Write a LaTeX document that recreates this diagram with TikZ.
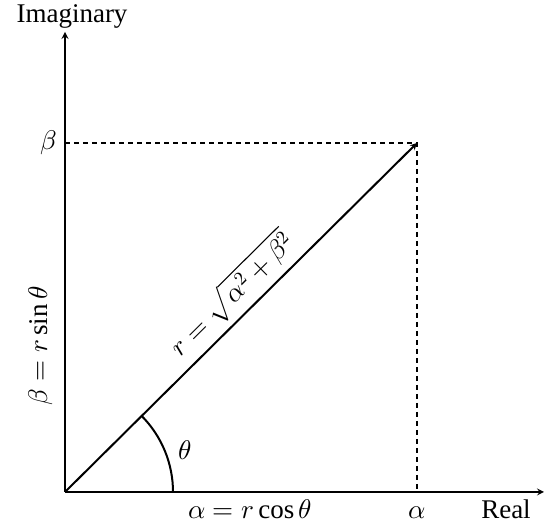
\documentclass[tikz,border=0pt]{standalone}
\usepackage{unicode-math}
\setmainfont{Liberation Serif}
\setmathfont{Latin Modern Math}
\usetikzlibrary{calc}

\begin{document}
\begin{tikzpicture}[x=1pt, y=1pt, line width=2pt, font=\fontsize{27}{32}\selectfont]
	\def\px{352}
	\def\py{349}
	\def\rad{108}
	\useasboundingbox (-65, -37) rectangle (479, 492);

	\coordinate (O) at (0, 0);
	\coordinate (P) at (\px, \py);
	\coordinate (X) at (479, 0);
	\coordinate (Y) at (0, 460);
	\coordinate (Px) at (\px, 0);
	\coordinate (Py) at (0, \py);

	\draw[-{stealth[scale=1.3]}] (O) -- (X);
	\draw[-{stealth[scale=1.3]}] (O) -- (Y);
	\node[anchor=base] (real) at (441, -27) {Real};
	\node[anchor=base] (imag) at (7, 469) {Imaginary};

	\draw[dash pattern=on 5pt off 4pt] (Py) -- (P) -- (Px);
	\draw[-{stealth[scale=1.3]}] (O) -- (P)
		node[pos=0.52, sloped, above, yshift=2pt] (rlab) {$r = \sqrt{\alpha^2 + \beta^2}$};

	\draw ($(O) + (\rad, 0)$) arc (0:44.8:\rad);
	\node (theta) at (120, 42) {$\theta$};

	\node[anchor=base] (alpha) at (\px, -27) {$\alpha$};
	\node[anchor=base] (acos) at (185, -27) {$\alpha = r\cos\theta$};
	\node[anchor=east] (beta) at (-4, \py) {$\beta$};
	\node[rotate=90] (bsin) at (-24, 146) {$\beta = r\sin\theta$};
\end{tikzpicture}
\end{document}
